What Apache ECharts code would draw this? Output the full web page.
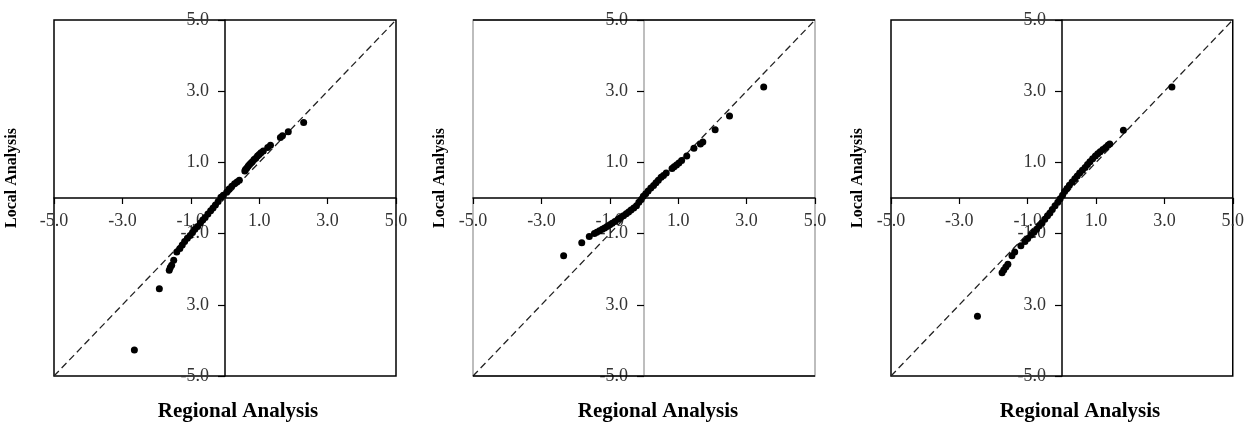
<!DOCTYPE html>
<html>
<head>
<meta charset="utf-8">
<script src="https://cdn.jsdelivr.net/npm/echarts@6/dist/echarts.min.js"></script>
<style>
  html, body { margin: 0; padding: 0; background: #fff; }
  #chart { width: 1247px; height: 425px; }
</style>
</head>
<body>
<div id="chart"></div>
<script>
// tick values and their printed labels (the y label at -3 prints without a minus in the source)
const tickValues = [-5, -3, -1, 1, 3, 5];
const xTickLabels = ['-5.0', '-3.0', '-1.0', '1.0', '3.0', '5.0'];
const yTickLabels = ['-5.0', '3.0', '-1.0', '1.0', '3.0', '5.0'];
const diagonal = [[-5, -5], [5, 5]];

// [regional, local] pairs
const panel1 = [
  [2.30, 2.12], [1.85, 1.86], [1.68, 1.75], [1.62, 1.70], [1.33, 1.48], [1.25, 1.42],
  [1.12, 1.32], [1.05, 1.27], [1.00, 1.22], [0.95, 1.18], [0.90, 1.12], [0.85, 1.08],
  [0.80, 1.02], [0.76, 0.98], [0.72, 0.94], [0.68, 0.90], [0.64, 0.84], [0.60, 0.80],
  [0.58, 0.76], [0.42, 0.50], [0.35, 0.45], [0.28, 0.40], [0.20, 0.33], [0.12, 0.25],
  [0.05, 0.16], [-0.05, 0.08], [-0.12, 0.02], [-0.20, -0.10], [-0.28, -0.20], [-0.35, -0.28],
  [-0.42, -0.36], [-0.50, -0.45], [-0.58, -0.55], [-0.65, -0.62], [-0.72, -0.70], [-0.80, -0.80],
  [-0.88, -0.88], [-0.95, -0.97], [-1.02, -1.05], [-1.10, -1.13], [-1.18, -1.22], [-1.25, -1.32],
  [-1.32, -1.42], [-1.41, -1.52], [-1.50, -1.75], [-1.56, -1.89], [-1.60, -1.95], [-1.63, -2.03],
  [-1.92, -2.55], [-2.65, -4.27]
];
const panel2 = [
  [3.50, 3.12], [2.50, 2.30], [2.08, 1.92], [1.72, 1.57], [1.65, 1.52], [1.46, 1.40],
  [1.25, 1.18], [1.10, 1.05], [1.02, 0.98], [0.95, 0.93], [0.88, 0.88], [0.82, 0.83],
  [0.65, 0.70], [0.57, 0.63], [0.50, 0.58], [0.42, 0.50], [0.35, 0.43], [0.28, 0.35],
  [0.20, 0.28], [0.12, 0.20], [0.05, 0.12], [-0.02, 0.05], [-0.08, -0.04], [-0.15, -0.12],
  [-0.22, -0.22], [-0.30, -0.28], [-0.38, -0.34], [-0.45, -0.39], [-0.52, -0.44], [-0.60, -0.50],
  [-0.68, -0.55], [-0.76, -0.60], [-0.85, -0.66], [-0.93, -0.71], [-1.00, -0.75], [-1.08, -0.80],
  [-1.15, -0.84], [-1.22, -0.88], [-1.30, -0.92], [-1.38, -0.96], [-1.45, -1.00], [-1.60, -1.08],
  [-1.82, -1.26], [-2.35, -1.62]
];
const panel3 = [
  [3.22, 3.12], [1.80, 1.90], [1.40, 1.52], [1.35, 1.48], [1.28, 1.42], [1.20, 1.36],
  [1.12, 1.30], [1.05, 1.24], [0.98, 1.18], [0.90, 1.10], [0.82, 1.02], [0.75, 0.94],
  [0.68, 0.86], [0.60, 0.78], [0.52, 0.70], [0.45, 0.62], [0.38, 0.54], [0.30, 0.45],
  [0.22, 0.36], [0.15, 0.27], [0.08, 0.18], [0.02, 0.08], [-0.05, -0.02], [-0.12, -0.12],
  [-0.20, -0.22], [-0.28, -0.32], [-0.35, -0.42], [-0.42, -0.50], [-0.50, -0.60], [-0.58, -0.70],
  [-0.66, -0.78], [-0.74, -0.88], [-0.82, -0.96], [-0.90, -1.04], [-1.00, -1.14], [-1.08, -1.22],
  [-1.20, -1.34], [-1.38, -1.52], [-1.46, -1.62], [-1.58, -1.86], [-1.64, -1.94], [-1.70, -2.02],
  [-1.75, -2.10], [-2.47, -3.32]
];

const FONT = '"Liberation Serif", "Times New Roman", serif';
const TOP = 20, BOTTOM = 49, HEIGHT = 425 - TOP - BOTTOM, WIDTH = 342;

// layout of the three panels (pixels)
const panels = [
  { data: panel1, left: 54, grey: false, titleX: 238, nameX: 12 },
  { data: panel2, left: 473, grey: true, titleX: 658, nameX: 440 },
  { data: panel3, left: 891, grey: false, titleX: 1080, nameX: 858 }
];

function labelFor(labels) {
  return function (v) {
    const i = tickValues.indexOf(Math.round(v));
    return i < 0 ? '' : labels[i];
  };
}

const chart = echarts.init(document.getElementById('chart'), null, { renderer: 'canvas' });

const grid = [], xAxis = [], yAxis = [], series = [], graphic = [];

panels.forEach((p, i) => {
  const frameColor = p.grey ? '#a8a8a8' : '#000';
  grid.push({
    left: p.left, width: WIDTH, top: TOP, height: HEIGHT,
    show: true, borderColor: frameColor, borderWidth: 1.5, backgroundColor: 'transparent'
  });
  // axes cross at the centre of the frame (value 0 on both)
  xAxis.push({
    gridIndex: i, type: 'value', min: -5, max: 5, interval: 2,
    position: 'bottom', offset: -HEIGHT / 2,
    axisLine: { onZero: false, lineStyle: { color: '#000', width: 1.5 } },
    axisTick: { show: true, length: 6, lineStyle: { color: '#000', width: 1.2 } },
    splitLine: { show: false },
    axisLabel: {
      formatter: labelFor(xTickLabels), fontFamily: FONT, fontSize: 18,
      color: '#333', margin: 14
    }
  });
  yAxis.push({
    gridIndex: i, type: 'value', min: -5, max: 5, interval: 2,
    position: 'left', offset: -WIDTH / 2,
    axisLine: { onZero: false, lineStyle: { color: frameColor, width: 1.5 } },
    axisTick: { show: true, length: 7, lineStyle: { color: '#000', width: 1.2 } },
    splitLine: { show: false },
    axisLabel: {
      formatter: labelFor(yTickLabels), fontFamily: FONT, fontSize: 18,
      color: '#333', margin: 16
    }
  });
  const line = {
    type: 'line', xAxisIndex: i, yAxisIndex: i, data: diagonal,
    symbol: 'none', silent: true, z: 3,
    lineStyle: { color: '#222', width: 1.3, type: [7, 4] }
  };
  if (p.grey) {
    // top and bottom of the middle frame stay black
    line.markLine = {
      silent: true, symbol: 'none', label: { show: false },
      lineStyle: { color: '#000', width: 1.5, type: 'solid' },
      data: [{ yAxis: 5 }, { yAxis: -5 }]
    };
  }
  series.push(line);
  series.push({
    type: 'scatter', xAxisIndex: i, yAxisIndex: i, data: p.data,
    symbol: 'circle', symbolSize: 7, z: 4,
    itemStyle: { color: '#000', opacity: 1 }
  });
  graphic.push({
    type: 'text', x: p.titleX, y: 412,
    style: {
      text: 'Regional Analysis', font: 'bold 21px ' + FONT, fill: '#000',
      align: 'center', verticalAlign: 'middle', textAlign: 'center', textVerticalAlign: 'middle'
    }
  });
  graphic.push({
    type: 'text', x: p.nameX, y: 178, rotation: Math.PI / 2,
    style: {
      text: 'Local Analysis', font: 'bold 16px ' + FONT, fill: '#000',
      align: 'center', verticalAlign: 'middle', textAlign: 'center', textVerticalAlign: 'middle'
    }
  });
});

chart.setOption({
  animation: false,
  backgroundColor: '#fff',
  grid, xAxis, yAxis, series, graphic
});
</script>
</body>
</html>
